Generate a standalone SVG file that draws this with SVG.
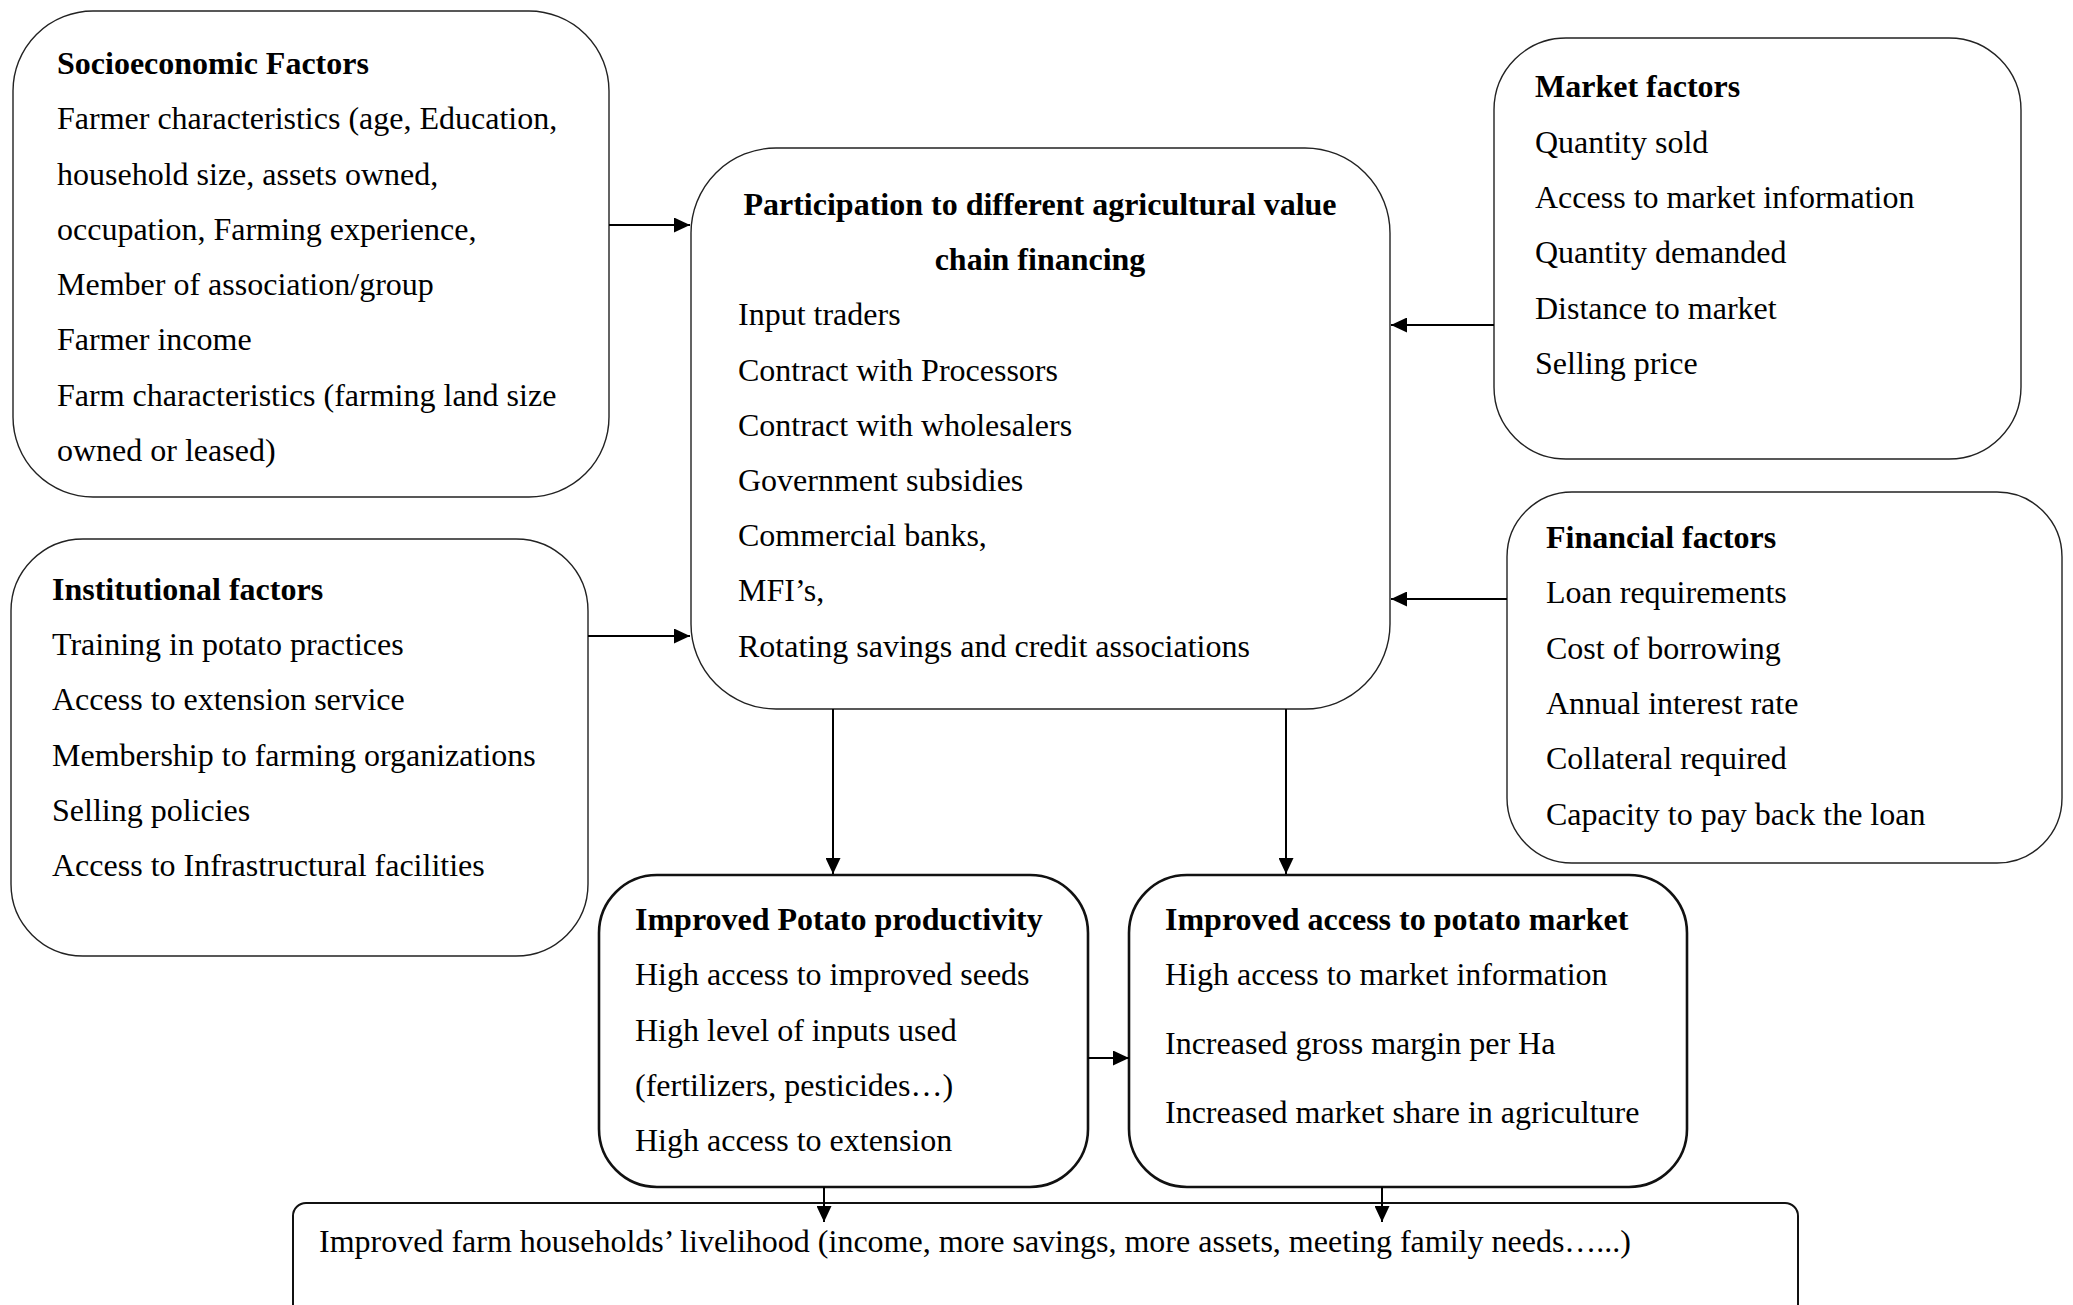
<svg xmlns="http://www.w3.org/2000/svg" width="2073" height="1305" viewBox="0 0 2073 1305">
  <style>
    .box { fill: #ffffff; stroke: #222222; stroke-width: 1.4; }
    .box-bold { fill: #ffffff; stroke: #111111; stroke-width: 2.6; }
    .box-mid { fill: #ffffff; stroke: #111111; stroke-width: 2; }
    text { font-family: "Liberation Serif", "Times New Roman", serif; font-size: 32px; fill: #000000; }
    .title { font-weight: bold; }
    .conn { stroke: #000000; stroke-width: 2; fill: none; }
  </style>
  <defs>
    <marker id="arrow" viewBox="0 0 16 15" refX="16" refY="7.5" markerWidth="16" markerHeight="15" markerUnits="userSpaceOnUse" orient="auto">
      <path d="M0,0 L16,7.5 L0,15 Z" fill="#000000"/>
    </marker>
  </defs>

  <rect width="2073" height="1305" fill="#ffffff"/>

  <!-- Left: socioeconomic factors -->
  <g id="socioeconomic">
    <rect class="box" x="13" y="11" width="596" height="486" rx="80" ry="80"/>
    <text class="title" x="57" y="74">Socioeconomic Factors</text>
    <text x="57" y="129">Farmer characteristics (age, Education,</text>
    <text x="57" y="185">household size, assets owned,</text>
    <text x="57" y="240">occupation, Farming experience,</text>
    <text x="57" y="295">Member of association/group</text>
    <text x="57" y="350">Farmer income</text>
    <text x="57" y="406">Farm characteristics (farming land size</text>
    <text x="57" y="461">owned or leased)</text>
  </g>

  <!-- Left: institutional factors -->
  <g id="institutional">
    <rect class="box" x="11" y="539" width="577" height="417" rx="72" ry="72"/>
    <text class="title" x="52" y="600">Institutional factors</text>
    <text x="52" y="655">Training in potato practices</text>
    <text x="52" y="710">Access to extension service</text>
    <text x="52" y="766">Membership to farming organizations</text>
    <text x="52" y="821">Selling policies</text>
    <text x="52" y="876">Access to Infrastructural facilities</text>
  </g>

  <!-- Centre: value chain financing -->
  <g id="participation">
    <rect class="box" x="691" y="148" width="699" height="561" rx="85" ry="85"/>
    <text class="title" x="1040" y="215" text-anchor="middle">Participation to different agricultural value</text>
    <text class="title" x="1040" y="270" text-anchor="middle">chain financing</text>
    <text x="738" y="325">Input traders</text>
    <text x="738" y="381">Contract with Processors</text>
    <text x="738" y="436">Contract with wholesalers</text>
    <text x="738" y="491">Government subsidies</text>
    <text x="738" y="546">Commercial banks,</text>
    <text x="738" y="601">MFI’s,</text>
    <text x="738" y="657">Rotating savings and credit associations</text>
  </g>

  <!-- Right: market factors -->
  <g id="market">
    <rect class="box" x="1494" y="38" width="527" height="421" rx="72" ry="72"/>
    <text class="title" x="1535" y="97">Market factors</text>
    <text x="1535" y="153">Quantity sold</text>
    <text x="1535" y="208">Access to market information</text>
    <text x="1535" y="263">Quantity demanded</text>
    <text x="1535" y="319">Distance to market</text>
    <text x="1535" y="374">Selling price</text>
  </g>

  <!-- Right: financial factors -->
  <g id="financial">
    <rect class="box" x="1507" y="492" width="555" height="371" rx="65" ry="65"/>
    <text class="title" x="1546" y="548">Financial factors</text>
    <text x="1546" y="603">Loan requirements</text>
    <text x="1546" y="659">Cost of borrowing</text>
    <text x="1546" y="714">Annual interest rate</text>
    <text x="1546" y="769">Collateral required</text>
    <text x="1546" y="825">Capacity to pay back the loan</text>
  </g>

  <!-- Outcome: productivity -->
  <g id="productivity">
    <rect class="box-bold" x="599" y="875" width="489" height="312" rx="58" ry="58"/>
    <text class="title" x="635" y="930">Improved Potato productivity</text>
    <text x="635" y="985">High access to improved seeds</text>
    <text x="635" y="1041">High level of inputs used</text>
    <text x="635" y="1096">(fertilizers, pesticides…)</text>
    <text x="635" y="1151">High access to extension</text>
  </g>

  <!-- Outcome: market access -->
  <g id="market-access">
    <rect class="box-bold" x="1129" y="875" width="558" height="312" rx="58" ry="58"/>
    <text class="title" x="1165" y="930">Improved access to potato market</text>
    <text x="1165" y="985">High access to market information</text>
    <text x="1165" y="1054">Increased gross margin per Ha</text>
    <text x="1165" y="1123">Increased market share in agriculture</text>
  </g>

  <!-- Final outcome: livelihood -->
  <g id="livelihood">
    <rect class="box-mid" x="293" y="1203" width="1505" height="120" rx="13" ry="13"/>
    <text x="319" y="1252">Improved farm households’ livelihood (income, more savings, more assets, meeting family needs…...)</text>
  </g>

  <!-- Connectors -->
  <g id="connectors">
    <line class="conn" x1="609" y1="225" x2="690" y2="225" marker-end="url(#arrow)"/>
    <line class="conn" x1="588" y1="636" x2="690" y2="636" marker-end="url(#arrow)"/>
    <line class="conn" x1="1494" y1="325" x2="1391" y2="325" marker-end="url(#arrow)"/>
    <line class="conn" x1="1507" y1="599" x2="1391" y2="599" marker-end="url(#arrow)"/>
    <line class="conn" x1="833" y1="709" x2="833" y2="874" marker-end="url(#arrow)"/>
    <line class="conn" x1="1286" y1="709" x2="1286" y2="874" marker-end="url(#arrow)"/>
    <line class="conn" x1="1088" y1="1058" x2="1129" y2="1058" marker-end="url(#arrow)"/>
    <line class="conn" x1="824" y1="1187" x2="824" y2="1222" marker-end="url(#arrow)"/>
    <line class="conn" x1="1382" y1="1187" x2="1382" y2="1222" marker-end="url(#arrow)"/>
  </g>
</svg>
